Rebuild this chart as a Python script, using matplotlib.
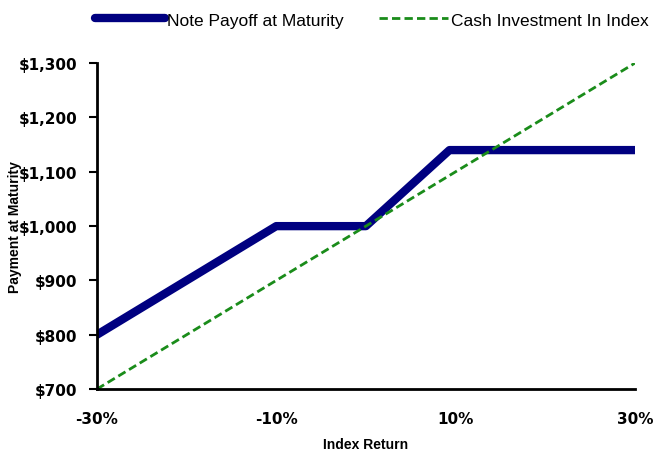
import matplotlib
matplotlib.use('Agg')
import matplotlib.pyplot as plt
from matplotlib.ticker import FuncFormatter

# Index return (%) and payoff values
note_x = [-30, -10, 0, 9.33, 30]
note_y = [800, 1000, 1000, 1140, 1140]
cash_x = [-30, 30]
cash_y = [700, 1300]

x_ticks = [-30, -10, 10, 30]
y_ticks = [700, 800, 900, 1000, 1100, 1200, 1300]

fig = plt.figure(figsize=(6.64, 4.52), dpi=100)
ax = fig.add_axes([0.146, 0.137, 0.81, 0.721])

ax.plot(note_x, note_y, color='#000080', linewidth=6, solid_capstyle='round',
        label='Note Payoff at Maturity')
ax.plot(cash_x, cash_y, color='#1a8c1a', linewidth=2, linestyle=(0, (3, 1.5)),
        label='Cash Investment In Index')

ax.set_xlim(-30, 30)
ax.set_ylim(700, 1300)
ax.set_xticks(x_ticks)
ax.set_yticks(y_ticks)
ax.xaxis.set_major_formatter(FuncFormatter(lambda v, p: f'{v:.0f}%'))
ax.yaxis.set_major_formatter(FuncFormatter(lambda v, p: f'${v:,.0f}'))

for s in ['top', 'right']:
    ax.spines[s].set_visible(False)
for s in ['left', 'bottom']:
    ax.spines[s].set_linewidth(2)
ax.tick_params(axis='y', direction='out', length=6, width=1.5, labelsize=11, pad=8)
ax.tick_params(axis='x', length=0, labelsize=11, pad=16)
for lbl in ax.get_xticklabels() + ax.get_yticklabels():
    lbl.set_fontweight('bold')

ax.set_xlabel('Index Return', fontsize=10, fontweight='bold', family='Liberation Sans', labelpad=8)
ax.set_ylabel('Payment at Maturity', fontsize=10, fontweight='bold', family='Liberation Sans')
ax.yaxis.set_label_coords(-0.14, 0.5)

leg = fig.legend(loc='upper right', bbox_to_anchor=(1.0, 1.005), ncol=2, frameon=False,
                 prop={'family': 'Liberation Sans', 'size': 12.5},
                 handlelength=4.0, handletextpad=0.15, columnspacing=2.0)

fig.savefig('out.png', dpi=100)
